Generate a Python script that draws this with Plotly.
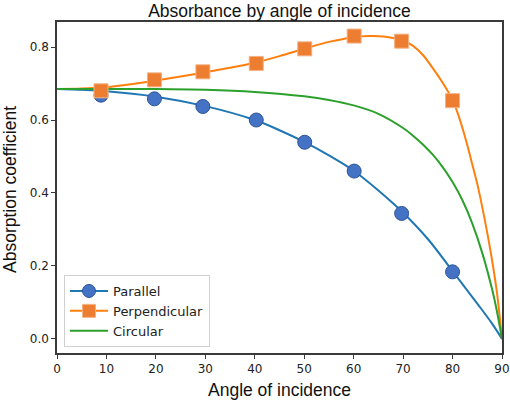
import plotly.graph_objects as go

# Measured data points (markers)
meas_angle = [8.9, 19.7, 29.5, 40.3, 50.1, 60.1, 69.7, 80.0]
parallel_meas = [0.668, 0.658, 0.637, 0.600, 0.539, 0.460, 0.344, 0.184]
perp_angle = [8.9, 19.7, 29.5, 40.3, 50.1, 60.1, 69.7, 80.0]
perp_meas = [0.680, 0.710, 0.732, 0.755, 0.795, 0.830, 0.816, 0.653]

# Model curves
par_curve_x = [0, 10, 20, 30, 40, 45, 50, 55, 60, 65, 70, 75, 80, 85, 88, 90]
par_curve_y = [0.685, 0.679, 0.664, 0.638, 0.600, 0.572, 0.540, 0.503, 0.461, 0.407, 0.346, 0.274, 0.186, 0.097, 0.042, 0.0]

perp_curve_x = [0, 5, 10, 15, 20, 25, 30, 35, 40, 45, 50, 55, 60, 63, 66, 70, 72, 74, 76, 78, 80, 81, 82, 83, 84, 85, 86, 87, 88, 89, 90]
perp_curve_y = [0.685, 0.686, 0.690, 0.698, 0.708, 0.719, 0.731, 0.743, 0.757, 0.775, 0.795, 0.814, 0.827, 0.830, 0.829, 0.817, 0.803, 0.778, 0.742, 0.702, 0.655, 0.620, 0.578, 0.530, 0.478, 0.425, 0.362, 0.292, 0.215, 0.125, 0.0]

circ_curve_x = [0, 10, 20, 30, 40, 50, 55, 60, 65, 70, 72, 74, 76, 78, 80, 82, 84, 86, 88, 89, 90]
circ_curve_y = [0.685, 0.685, 0.685, 0.683, 0.677, 0.665, 0.655, 0.640, 0.617, 0.578, 0.557, 0.533, 0.505, 0.471, 0.430, 0.380, 0.316, 0.236, 0.136, 0.074, 0.0]

x_ticks = [0, 10, 20, 30, 40, 50, 60, 70, 80, 90]
y_ticks = [0.0, 0.2, 0.4, 0.6, 0.8]
y_tick_labels = ["0.0", "0.2", "0.4", "0.6", "0.8"]

BLUE_LINE = "#1f77b4"
ORANGE_LINE = "#ff7f0e"
GREEN_LINE = "#2ca02c"
BLUE_MK = "#4472C4"
BLUE_MK_EDGE = "#2F5597"
ORANGE_MK = "#ED7D31"
ORANGE_MK_EDGE = "#F4B183"

fig = go.Figure()

fig.add_trace(go.Scatter(x=par_curve_x, y=par_curve_y, mode="lines",
                         line=dict(color=BLUE_LINE, width=2, shape="spline", smoothing=1.0),
                         showlegend=False, hoverinfo="skip"))
fig.add_trace(go.Scatter(x=perp_curve_x, y=perp_curve_y, mode="lines",
                         line=dict(color=ORANGE_LINE, width=2, shape="spline", smoothing=1.0),
                         showlegend=False, hoverinfo="skip"))
fig.add_trace(go.Scatter(x=circ_curve_x, y=circ_curve_y, mode="lines",
                         line=dict(color=GREEN_LINE, width=2, shape="spline", smoothing=1.0),
                         showlegend=False, hoverinfo="skip"))

fig.add_trace(go.Scatter(x=meas_angle, y=parallel_meas, mode="markers",
                         marker=dict(symbol="circle", size=14, color=BLUE_MK,
                                     line=dict(color=BLUE_MK_EDGE, width=1)),
                         showlegend=False))
fig.add_trace(go.Scatter(x=perp_angle, y=perp_meas, mode="markers",
                         marker=dict(symbol="square", size=14, color=ORANGE_MK,
                                     line=dict(color=ORANGE_MK_EDGE, width=1)),
                         showlegend=False))

# Legend entries
fig.add_trace(go.Scatter(x=[None], y=[None], mode="lines+markers", name="Parallel",
                         line=dict(color=BLUE_LINE, width=2),
                         marker=dict(symbol="circle", size=13, color=BLUE_MK,
                                     line=dict(color=BLUE_MK_EDGE, width=1))))
fig.add_trace(go.Scatter(x=[None], y=[None], mode="lines+markers", name="Perpendicular",
                         line=dict(color=ORANGE_LINE, width=2),
                         marker=dict(symbol="square", size=13, color=ORANGE_MK,
                                     line=dict(color=ORANGE_MK_EDGE, width=1))))
fig.add_trace(go.Scatter(x=[None], y=[None], mode="lines", name="Circular",
                         line=dict(color=GREEN_LINE, width=2)))

W, H = 510, 401
L, R, T, B = 57, 8, 22, 48
pw = W - L - R
ph = H - T - B

axis_common = dict(showline=True, linecolor="#3a3a3a", linewidth=1.5, mirror=True,
                   ticks="outside", ticklen=4, tickwidth=1.2, tickcolor="#3a3a3a",
                   showgrid=False, zeroline=False, automargin=False,
                   tickfont=dict(family="DejaVu Sans", size=12, color="#222222"))

fig.update_layout(
    width=W, height=H, autosize=False,
    margin=dict(l=L, r=R, t=T, b=B, pad=0, autoexpand=False),
    paper_bgcolor="white", plot_bgcolor="white",
    title=dict(text="Absorbance by angle of incidence", x=0.5, xref="paper",
               y=1 - 10.5 / H, yref="container", yanchor="middle", xanchor="center",
               font=dict(family="Liberation Sans", size=17.5, color="#111111")),
    xaxis=dict(range=[0, 90], tickvals=x_ticks, **axis_common),
    yaxis=dict(range=[-0.0384, 0.8685], tickvals=y_ticks, ticktext=y_tick_labels, **axis_common),
    legend=dict(x=7 / pw, y=6 / ph, xanchor="left", yanchor="bottom",
                bgcolor="white", bordercolor="#d0d0d0", borderwidth=1,
                font=dict(family="DejaVu Sans", size=13, color="#222222"),
                itemwidth=38, tracegroupgap=0),
    showlegend=True,
)

fig.add_annotation(text="Angle of incidence", xref="paper", yref="paper",
                   x=0.5, y=(353 - 390) / ph, xanchor="center", yanchor="middle",
                   showarrow=False, font=dict(family="Liberation Sans", size=17.5, color="#111111"))
fig.add_annotation(text="Absorption coefficient", xref="paper", yref="paper",
                   x=(10 - L) / pw, y=(353 - 190) / ph, xanchor="center", yanchor="middle",
                   textangle=-90, showarrow=False,
                   font=dict(family="Liberation Sans", size=17.5, color="#111111"))

# Remove the default 8px page margin so the figure fills the window exactly
fig.write_html("out.html",
               config={"displayModeBar": False},
               post_script="document.body.style.margin='0';document.body.style.overflow='hidden';")
